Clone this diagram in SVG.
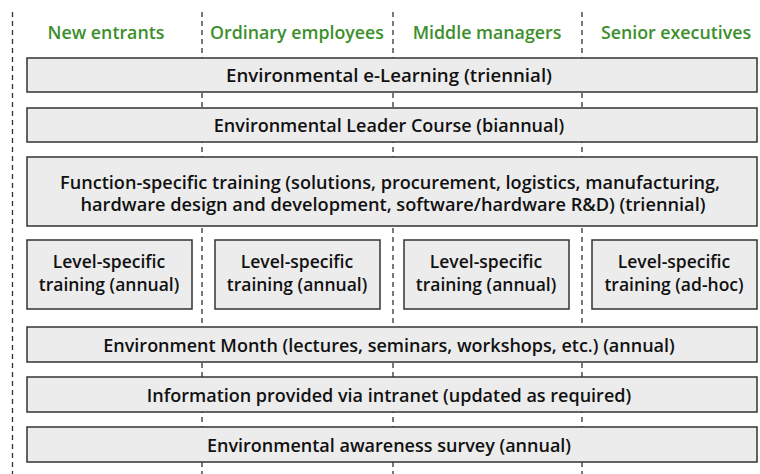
<svg xmlns="http://www.w3.org/2000/svg" width="760" height="474" viewBox="0 0 760 474">
<style>
.bg{fill:#ffffff}
.grid{stroke:#333;stroke-width:1.3;stroke-dasharray:5 4;fill:none}
.box{fill:#ececec;stroke:#333;stroke-width:1.5}
.hd{font-family:"Open Sans","Liberation Sans",sans-serif;font-weight:600;font-size:17.8px;fill:#3c8f2c;text-anchor:middle}
.t{font-family:"Open Sans","Liberation Sans",sans-serif;font-weight:600;font-size:18px;fill:#111;text-anchor:middle}
.s{font-size:17.5px}
</style>
<rect class="bg" x="0" y="0" width="760" height="474"/>
<g id="connectors">
<line class="grid" x1="12.5" y1="12" x2="12.5" y2="474"/>
<line class="grid" x1="202" y1="12" x2="202" y2="474"/>
<line class="grid" x1="393" y1="12" x2="393" y2="474"/>
<line class="grid" x1="582" y1="12" x2="582" y2="474"/>
</g>
<g id="h1"><text class="hd" x="106" y="39">New entrants</text></g>
<g id="h2"><text class="hd" x="297" y="39">Ordinary employees</text></g>
<g id="h3"><text class="hd" x="487" y="39">Middle managers</text></g>
<g id="h4"><text class="hd" x="676" y="39">Senior executives</text></g>
<g id="n1"><rect class="box" x="27" y="58" width="730" height="34"/><text class="t" x="389" y="82" textLength="326" lengthAdjust="spacingAndGlyphs">Environmental e-Learning (triennial)</text></g>
<g id="n2"><rect class="box" x="27" y="108" width="730" height="34"/><text class="t" x="389" y="132">Environmental Leader Course (biannual)</text></g>
<g id="n3"><rect class="box" x="27" y="157" width="730" height="69"/><text class="t" x="390" y="189" textLength="660" lengthAdjust="spacingAndGlyphs">Function-specific training (solutions, procurement, logistics, manufacturing,</text><text class="t" x="393" y="211" textLength="625" lengthAdjust="spacingAndGlyphs">hardware design and development, software/hardware R&amp;D) (triennial)</text></g>
<g id="n4"><rect class="box" x="27" y="240" width="165" height="69"/><text class="t s" x="109" y="268">Level-specific</text><text class="t s" x="109" y="291">training (annual)</text></g>
<g id="n5"><rect class="box" x="215" y="240" width="165" height="69"/><text class="t s" x="297" y="268">Level-specific</text><text class="t s" x="297" y="291">training (annual)</text></g>
<g id="n6"><rect class="box" x="404" y="240" width="165" height="69"/><text class="t s" x="486" y="268">Level-specific</text><text class="t s" x="486" y="291">training (annual)</text></g>
<g id="n7"><rect class="box" x="592" y="240" width="165" height="69"/><text class="t s" x="674" y="268">Level-specific</text><text class="t s" x="674" y="291">training (ad-hoc)</text></g>
<g id="n8"><rect class="box" x="27" y="327" width="730" height="35"/><text class="t" x="389" y="352">Environment Month (lectures, seminars, workshops, etc.) (annual)</text></g>
<g id="n9"><rect class="box" x="27" y="377" width="730" height="35"/><text class="t" x="389" y="402">Information provided via intranet (updated as required)</text></g>
<g id="n10"><rect class="box" x="27" y="427" width="730" height="35"/><text class="t" x="389" y="452">Environmental awareness survey (annual)</text></g>
</svg>
